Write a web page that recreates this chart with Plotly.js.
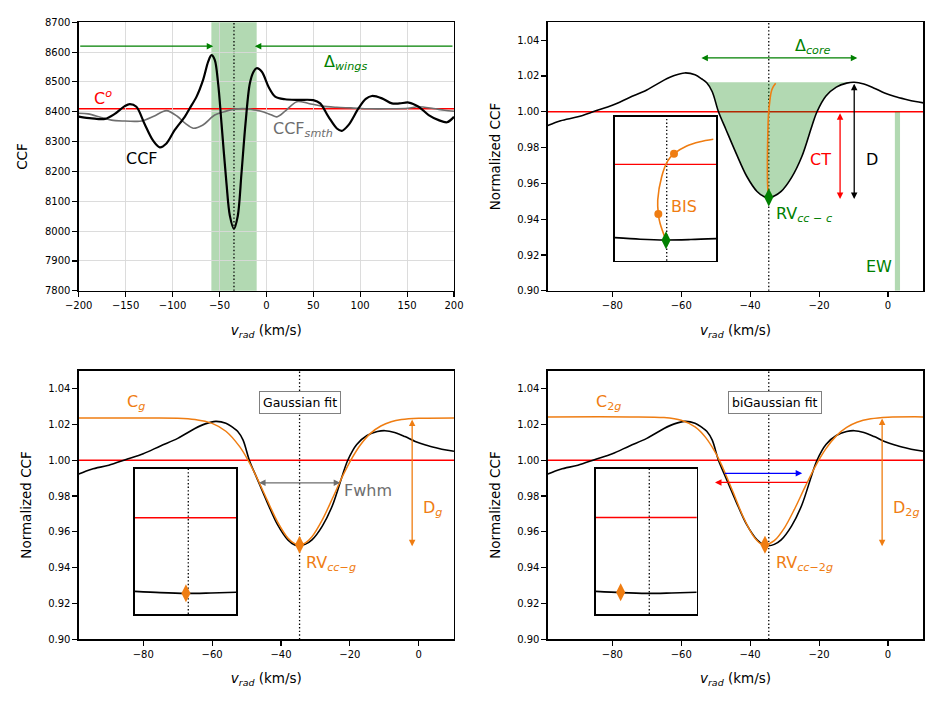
<!DOCTYPE html>
<html><head><meta charset="utf-8">
<script src="https://cdn.plot.ly/plotly-3.0.1.min.js"></script>
<style>html,body{margin:0;padding:0;background:#fff}#chart{width:946px;height:705px}</style>
</head><body><div id="chart"></div>
<script>
// ---------- DATA ----------
// Panel 1: raw CCF (km/s, counts)
const vRaw   = [-200,-186,-172,-162,-151,-145.5,-138.5,-130,-121,-113.6,-106.5,-97.6,-87,-81.6,-74.5,-67.4,-62,-58.5,-55,-51.4,-47.8,-42.5,-38.9,-34.6,-30.5,-26.5,-22.2,-17.6,-13.5,-10.4,-4.8,2.3,9.4,20,35,50,57.4,66.3,75.2,80.5,87.7,98.3,106,112.5,123.2,133.9,142,151.7,162.3,173,183.7,192.6,200];
const ccfRaw = [8384,8378,8376,8392,8419,8426,8417,8361,8305,8281,8294,8339,8383,8412,8450,8507,8568,8590,8574,8495,8361,8160,8052,8008,8050,8194,8361,8495,8535,8546,8534,8484,8451,8442,8440,8439,8428,8383,8344,8336,8356,8412,8443,8453,8445,8428,8428,8431,8417,8389,8372,8365,8383];
const vSmth   = [-200,-190,-176,-165,-151,-140,-133,-120,-106.5,-95,-86,-78,-68,-55,-45,-33.6,-20,-12.3,-4.8,0,5,11.2,20,32.5,45,59.2,75,90,110,130,151,162,178,190,200];
const ccfSmth = [8395,8393,8381,8372,8369,8368,8369,8385,8404,8385,8360,8345,8355,8389,8400,8409,8410,8406,8401,8396,8390,8383,8402,8434,8428,8419,8415,8413,8410,8410,8412,8417,8411,8405,8402];
const C0 = 8410;
// Panels 2-4: normalized CCF
const vNorm   = [-98.75,-95,-90,-85,-80,-75,-70,-65,-62,-59,-56,-54,-52.6,-51,-49.2,-47,-44,-41,-38,-36,-34.6,-33,-31,-28,-25,-22,-20.6,-18,-15,-12,-9.8,-7,-4,-1,2,5,8,10.25];
const ccfNorm = [0.9923,0.9950,0.9972,1.0004,1.0036,1.0080,1.0122,1.0177,1.0203,1.0217,1.0207,1.0183,1.0162,1.0112,1.0000,0.9900,0.9765,0.9640,0.9555,0.9527,0.9522,0.9530,0.9555,0.9632,0.9750,0.9925,1.0000,1.0088,1.0138,1.0160,1.0165,1.0155,1.0132,1.0105,1.0085,1.0070,1.0057,1.0050];
// bisector (panel 2)
const vBis = [-34.7,-34.95,-35.0,-34.9,-34.7,-34.3,-33.9,-33.3,-32.6];
const yBis = [0.9522,0.960,0.973,0.985,0.998,1.006,1.011,1.014,1.016];
// Gaussian fit (panel 3)
const vGauss = [-98.75,-80,-70,-65,-60,-56,-52,-49.5,-47,-44,-41,-38,-36,-34.6,-33,-31,-28,-25,-22,-19.7,-17,-14,-11,-8,-5,0,10.25];
const yGauss = [1.0236,1.0236,1.0235,1.0228,1.0206,1.0162,1.0076,0.9998,0.9903,0.9777,0.9656,0.9566,0.9534,0.9528,0.9537,0.9573,0.9667,0.9789,0.9915,1.0001,1.0084,1.0150,1.0191,1.0215,1.0227,1.0234,1.0236];
// biGaussian fit (panel 4)
const vBiG = [-98.75,-75,-65,-60,-56,-53,-50,-48,-45,-42,-39,-37,-35.7,-33,-30,-27,-24,-21,-18,-15,-12,-9,-5,0,10.25];
const yBiG = [1.0242,1.0242,1.0238,1.0223,1.0186,1.0129,1.0040,0.9961,0.9824,0.9683,0.9575,0.9535,0.9528,0.9551,0.9624,0.9732,0.9854,0.9969,1.0065,1.0136,1.0183,1.0212,1.0231,1.0240,1.0242];
// measured quantities
const RV_TL = -34.5, WING_L = -58.6, WING_R = -10.3, WING_Y = 8620;
const RV_C = -34.6, CCF_MIN = 0.9522, CORE_TOP = 1.0165, CORE_L = -52.6, CORE_R = -9.8;
const CORE_ARROW = {y: 1.0301, x0: -54.6, x1: -8.9};
const CT_X = -13.9, D_X = -9.8, ARROW_BOTTOM = 0.9513;
const EW = {x0: 2.0, x1: 3.5, top: 1.0};
const RV_G = -34.6, YMIN_G = 0.9528, CG = 1.0236, DG_X = -1.9;
const FWHM = {y: 0.9874, x0: -46.8, x1: -22.8};
const RV_2G = -35.7, YMIN_2G = 0.9528, C2G = 1.0242, D2G_X = -1.7;
const BLUE = {y: 0.9927, x0: -47.8, x1: -24.9};
const REDW = {y: 0.9876, x0: -23.1, x1: -50.2};
// insets (schematic, box units 0..1)
const insTR = {dot: 0.512, red: 0.669, cx: [0,0.25,0.5,0.75,1], cy: [0.160,0.149,0.144,0.147,0.153],
  bx: [0.505,0.446,0.429,0.423,0.462,0.518,0.584,0.710,0.842,0.973], by: [0.140,0.260,0.324,0.422,0.583,0.688,0.743,0.797,0.826,0.843],
  dotsX: [0.429,0.584], dotsY: [0.324,0.743], rvX: 0.505, rvY: 0.142};
const insBL = {dot: 0.526, red: 0.664, cx: [0,0.25,0.5,0.75,1], cy: [0.156,0.147,0.142,0.145,0.150], rvX: 0.503, rvY: 0.143};
const insBR = {dot: 0.529, red: 0.665, cx: [0,0.25,0.5,0.75,1], cy: [0.156,0.147,0.142,0.145,0.150], rvX: 0.245, rvY: 0.150};

// ---------- STYLE ----------
const FONT = 'DejaVu Sans';
const ORANGE = '#ef7d12', GREEN = '#008000', RED = '#ff0000', GREY = '#6e6e6e';
const FILLG = 'rgba(0,128,0,0.3)';
const DOT = '1.4px,2.2px';

const traces = [];
function line(x, y, xa, ya, color, width, extra) {
  traces.push(Object.assign({x, y, xaxis: xa, yaxis: ya, mode: 'lines', type: 'scatter', hoverinfo: 'skip',
    line: {color, width, shape: 'spline', smoothing: 0.9}, showlegend: false}, extra || {}));
}
function marker(x, y, xa, ya, color, symbol, size) {
  traces.push({x, y, xaxis: xa, yaxis: ya, mode: 'markers', type: 'scatter', hoverinfo: 'skip', showlegend: false,
    marker: {color, symbol, size, line: {width: 0}}});
}

// Panel 1
line(vSmth, ccfSmth, 'x', 'y', GREY, 1.6);
line(vRaw, ccfRaw, 'x', 'y', '#000', 2.2);
// Panel 2
const fx = [CORE_L], fy = [CORE_TOP];
vNorm.forEach((v, i) => { if (v > CORE_L && v < CORE_R) { fx.push(v); fy.push(ccfNorm[i]); } });
fx.push(CORE_R); fy.push(CORE_TOP);
traces.push({x: fx, y: fy, xaxis: 'x2', yaxis: 'y2', type: 'scatter', mode: 'lines', fill: 'toself', fillcolor: FILLG,
  line: {width: 0, shape: 'spline', smoothing: 0.9}, hoverinfo: 'skip', showlegend: false});
line(vNorm, ccfNorm, 'x2', 'y2', '#000', 1.6);
line(vBis, yBis, 'x2', 'y2', ORANGE, 1.6);
marker([RV_C], [CCF_MIN], 'x2', 'y2', GREEN, 'diamond-tall', 13);
// Panel 3
line(vNorm, ccfNorm, 'x3', 'y3', '#000', 1.6);
line(vGauss, yGauss, 'x3', 'y3', ORANGE, 1.5);
marker([RV_G], [YMIN_G], 'x3', 'y3', ORANGE, 'diamond-tall', 13);
// Panel 4
line(vNorm, ccfNorm, 'x4', 'y4', '#000', 1.6);
line(vBiG, yBiG, 'x4', 'y4', ORANGE, 1.5);
marker([RV_2G], [YMIN_2G], 'x4', 'y4', ORANGE, 'diamond-tall', 13);
// Insets
line(insTR.cx, insTR.cy, 'x5', 'y5', '#000', 1.6);
line(insTR.bx, insTR.by, 'x5', 'y5', ORANGE, 1.6);
marker(insTR.dotsX, insTR.dotsY, 'x5', 'y5', ORANGE, 'circle', 8);
marker([insTR.rvX], [insTR.rvY], 'x5', 'y5', GREEN, 'diamond-tall', 13);
line(insBL.cx, insBL.cy, 'x6', 'y6', '#000', 1.6);
marker([insBL.rvX], [insBL.rvY], 'x6', 'y6', ORANGE, 'diamond-tall', 13);
line(insBR.cx, insBR.cy, 'x7', 'y7', '#000', 1.6);
marker([insBR.rvX], [insBR.rvY], 'x7', 'y7', ORANGE, 'diamond-tall', 13);

// ---------- SHAPES ----------
const shapes = [];
function vdot(xref, yref, x) { shapes.push({type: 'line', xref, yref: yref + ' domain', x0: x, x1: x, y0: 0, y1: 1, layer: 'below', line: {color: '#000', width: 1.3, dash: DOT}}); }
function hline(xref, yref, y, color) { shapes.push({type: 'line', xref: xref + ' domain', yref, x0: 0, x1: 1, y0: y, y1: y, layer: 'below', line: {color, width: 1.4}}); }
shapes.push({type: 'rect', xref: 'x', yref: 'y domain', x0: WING_L, x1: WING_R, y0: 0, y1: 1, fillcolor: FILLG, line: {width: 0}, layer: 'below'});
hline('x', 'y', C0, RED); vdot('x', 'y', RV_TL);
hline('x2', 'y2', 1.0, RED); vdot('x2', 'y2', RV_C);
shapes.push({type: 'rect', xref: 'x2', yref: 'y2', x0: EW.x0, x1: EW.x1, y0: 0.9, y1: EW.top, fillcolor: FILLG, line: {width: 0}, layer: 'below'});
hline('x3', 'y3', 1.0, RED); vdot('x3', 'y3', RV_G);
hline('x4', 'y4', 1.0, RED); vdot('x4', 'y4', RV_C);
hline('x5', 'y5', insTR.red, RED); vdot('x5', 'y5', insTR.dot);
hline('x6', 'y6', insBL.red, RED); vdot('x6', 'y6', insBL.dot);
hline('x7', 'y7', insBR.red, RED); vdot('x7', 'y7', insBR.dot);

// ---------- ANNOTATIONS ----------
const ann = [];
function label(xref, yref, x, y, text, color, size, xanchor) {
  ann.push({xref, yref, x, y, text, showarrow: false, xanchor: xanchor || 'left', yanchor: 'middle',
    font: {family: FONT, size: size || 16, color}});
}
function arrow(xref, yref, x0, y0, x1, y1, color, both) {
  const a = {xref, yref, axref: xref, ayref: yref, ax: x0, ay: y0, x: x1, y: y1, text: '', showarrow: true,
    arrowhead: 2, arrowsize: 1, arrowwidth: 1.3, arrowcolor: color, standoff: 0, startstandoff: 0};
  if (both) { a.arrowside = 'end+start'; a.startarrowhead = 2; a.startarrowsize = 1; }
  ann.push(a);
}
function boxed(xref, yref, x, y, text) {
  ann.push({xref, yref, x, y, text, showarrow: false, xanchor: 'center', yanchor: 'middle', bgcolor: '#fff',
    bordercolor: '#808080', borderwidth: 1, borderpad: 3, font: {family: FONT, size: 12.5, color: '#000'}});
}
// Panel 1
arrow('x', 'y', -200, WING_Y, WING_L + 2, WING_Y, GREEN, false);
arrow('x', 'y', 200, WING_Y, WING_R - 2, WING_Y, GREEN, false);
label('x', 'y', -186, 8449, 'C<sup><i>o</i></sup>', RED);
label('x', 'y', -133, 8244, 'CCF', '#000', 16, 'center');
label('x', 'y', 4.5, 8342, 'CCF<sub><i>smth</i></sub>', GREY);
label('x', 'y', 59, 8565, 'Δ<sub><i>wings</i></sub>', GREEN);
// Panel 2
arrow('x2', 'y2', CORE_ARROW.x0, CORE_ARROW.y, CORE_ARROW.x1, CORE_ARROW.y, GREEN, true);
arrow('x2', 'y2', CT_X, 1.0, CT_X, ARROW_BOTTOM, RED, true);
arrow('x2', 'y2', D_X, CORE_TOP, D_X, ARROW_BOTTOM, '#000', true);
label('x2', 'y2', -27.5, 1.0365, 'Δ<sub><i>core</i></sub>', GREEN);
label('x2', 'y2', -23.2, 0.9731, 'CT', RED);
label('x2', 'y2', -7.1, 0.9731, 'D', '#000');
label('x2', 'y2', -33.2, 0.9425, 'RV<sub><i>cc</i> − <i>c</i></sub>', GREEN);
label('x2', 'y2', -7.1, 0.9134, 'EW', GREEN);
label('x5', 'y5', 0.53, 0.375, 'BIS', ORANGE);
// Panel 3
boxed('x3', 'y3', -34.5, 1.032, 'Gaussian fit');
arrow('x3', 'y3', FWHM.x0, FWHM.y, FWHM.x1, FWHM.y, GREY, true);
arrow('x3', 'y3', DG_X, CG, DG_X, YMIN_G - 0.0008, ORANGE, true);
label('x3', 'y3', -85.3, 1.0325, 'C<sub><i>g</i></sub>', ORANGE);
label('x3', 'y3', -22.4, 0.9829, 'Fwhm', GREY);
label('x3', 'y3', 0.8, 0.9731, 'D<sub><i>g</i></sub>', ORANGE);
label('x3', 'y3', -33.2, 0.9421, 'RV<sub><i>cc</i>−<i>g</i></sub>', ORANGE);
// Panel 4
boxed('x4', 'y4', -32.7, 1.032, 'biGaussian fit');
arrow('x4', 'y4', BLUE.x0, BLUE.y, BLUE.x1, BLUE.y, '#0000ff', false);
arrow('x4', 'y4', REDW.x0, REDW.y, REDW.x1, REDW.y, RED, false);
arrow('x4', 'y4', D2G_X, C2G, D2G_X, YMIN_2G - 0.0008, ORANGE, true);
label('x4', 'y4', -85.4, 1.0325, 'C<sub>2<i>g</i></sub>', ORANGE);
label('x4', 'y4', 1.0, 0.9731, 'D<sub>2<i>g</i></sub>', ORANGE);
label('x4', 'y4', -33.0, 0.9421, 'RV<sub><i>cc</i>−2<i>g</i></sub>', ORANGE);

// ---------- AXES ----------
const tickFont = {family: FONT, size: 10, color: '#000'};
const titleFont = {family: FONT, size: 13.5, color: '#000'};
const XT = '<i>v</i><sub><i>rad</i></sub> (km/s)';
function xax(domain, anchor, range, dtick, tick0, grid) {
  return {domain, anchor, range, dtick, tick0, tickmode: 'linear', showline: true, mirror: true, linecolor: '#000', linewidth: 1.3,
    ticks: 'outside', ticklen: 5, tickwidth: 1.1, tickcolor: '#000', tickfont: tickFont, showgrid: !!grid, gridcolor: '#d8d8d8', gridwidth: 0.9,
    zeroline: false, fixedrange: true, title: {text: XT, font: titleFont, standoff: 15}, automargin: false};
}
function yax(domain, anchor, range, dtick, tick0, fmt, title, grid) {
  return {domain, anchor, range, dtick, tick0, tickmode: 'linear', tickformat: fmt, showline: true, mirror: true, linecolor: '#000', linewidth: 1.3,
    ticks: 'outside', ticklen: 5, tickwidth: 1.1, tickcolor: '#000', tickfont: tickFont, showgrid: !!grid, gridcolor: '#d8d8d8', gridwidth: 0.9,
    zeroline: false, fixedrange: true, title: {text: title, font: titleFont, standoff: 13.5}, automargin: false};
}
function inset(domain, anchor) {
  return {domain, anchor, range: [0, 1], showline: true, mirror: true, linecolor: '#000', linewidth: 1.6,
    ticks: '', showticklabels: false, showgrid: false, zeroline: false, fixedrange: true};
}
const XL = [0.0832, 0.4799], XR = [0.5790, 0.9760], YT = [0.5875, 0.9684], YB = [0.0932, 0.4742];
const layout = {
  width: 946, height: 705, margin: {l: 0, r: 0, t: 0, b: 0}, paper_bgcolor: '#fff', plot_bgcolor: 'rgba(0,0,0,0)',
  font: {family: FONT, color: '#000'}, showlegend: false,
  xaxis: xax(XL, 'y', [-200, 200], 50, -200, true),
  yaxis: yax(YT, 'x', [7800, 8700], 100, 7800, 'd', 'CCF', true),
  xaxis2: xax(XR, 'y2', [-98.75, 10.25], 20, -80),
  yaxis2: yax(YT, 'x2', [0.90, 1.05], 0.02, 0.90, '.2f', 'Normalized CCF'),
  xaxis3: xax(XL, 'y3', [-98.75, 10.25], 20, -80),
  yaxis3: yax(YB, 'x3', [0.90, 1.05], 0.02, 0.90, '.2f', 'Normalized CCF'),
  xaxis4: xax(XR, 'y4', [-98.75, 10.25], 20, -80),
  yaxis4: yax(YB, 'x4', [0.90, 1.05], 0.02, 0.90, '.2f', 'Normalized CCF'),
  xaxis5: inset([0.6501, 0.7569], 'y5'), yaxis5: inset([0.6302, 0.8345], 'x5'),
  xaxis6: inset([0.1427, 0.2498], 'y6'), yaxis6: inset([0.1291, 0.3348], 'x6'),
  xaxis7: inset([0.6300, 0.7365], 'y7'), yaxis7: inset([0.1291, 0.3348], 'x7'),
  shapes, annotations: ann
};
Plotly.newPlot('chart', traces, layout, {staticPlot: true, displayModeBar: false});
</script></body></html>
